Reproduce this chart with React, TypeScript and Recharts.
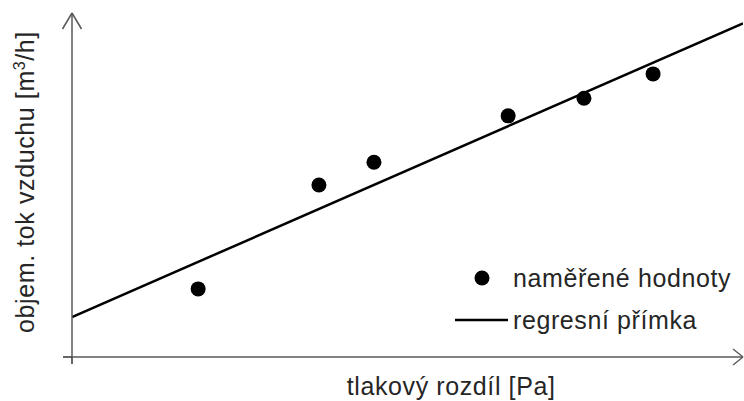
import React from "react";
import { ComposedChart, Scatter, Line, XAxis, YAxis, ReferenceLine, Legend } from "recharts";

// naměřené hodnoty (osy bez stupnice 0–100)
const measuredX = [18.8, 36.8, 45.0, 65.0, 76.3, 86.6];
const measuredY = [19.8, 50.0, 56.6, 70.1, 75.2, 82.3];

// regresní přímka – krajní body
const regressionX = [0, 100];
const regressionY = [11.6, 97.0];

const xTitle = "tlakový rozdíl [Pa]";
const yTitleParts = ["objem. tok vzduchu [m", "3", "/h]"];
const seriesNames = ["naměřené hodnoty", "regresní přímka"];

const measured = measuredX.map((x, i) => ({ x, y: measuredY[i] }));
const regression = regressionX.map((x, i) => ({ x, y: regressionY[i] }));

const W = 744;
const H = 401;
const margin = { top: 13, right: 1, left: 0, bottom: 0 };
const Y_AXIS_W = 72;
const X_AXIS_H = 44;
const plotW = W - Y_AXIS_W - margin.right - margin.left;
const plotH = H - X_AXIS_H - margin.top - margin.bottom;

// převod px -> jednotky os pro dekorace (šipky, přesahy)
const ux = (px: number) => (px / plotW) * 100;
const uy = (px: number) => (px / plotH) * 100;

const AXIS = "#595959";
const TEXT = "#262626";
const FONT = "'Liberation Sans', Arial, sans-serif";
const textStyle = { fontFamily: FONT, fontSize: 25, letterSpacing: 0.6, fill: TEXT };

const XTitle = (props: any) => {
  const vb = props.viewBox || { x: Y_AXIS_W, y: H - X_AXIS_H, width: plotW, height: X_AXIS_H };
  return (
    <text x={vb.x + vb.width * 0.565} y={vb.y + 38} textAnchor="middle" style={textStyle}>
      {xTitle}
    </text>
  );
};

const YTitle = (props: any) => {
  const vb = props.viewBox || { x: 0, y: margin.top, width: Y_AXIS_W, height: plotH };
  const cx = vb.x + 34;
  const cy = vb.y + vb.height / 2 - 3;
  return (
    <text x={cx} y={cy} textAnchor="middle" transform={`rotate(-90, ${cx}, ${cy})`} style={textStyle}>
      <tspan>{yTitleParts[0]}</tspan>
      <tspan dy={-9} style={{ fontSize: 16 }}>{yTitleParts[1]}</tspan>
      <tspan dy={9}>{yTitleParts[2]}</tspan>
    </text>
  );
};

const Dot = (p: any) => <circle cx={p.cx} cy={p.cy} r={7.5} fill="#000" />;

const LegendBox = (props: any) => {
  const payload = props.payload || [];
  return (
    <div style={{ fontFamily: FONT, fontSize: 25, letterSpacing: 0.6, color: TEXT }}>
      {payload.map((entry: any, i: number) => (
        <div key={i} style={{ display: "flex", alignItems: "center", height: 42 }}>
          <svg width={58} height={42} style={{ display: "block" }}>
            {entry.type === "line" ? (
              <line x1={0} y1={21} x2={53} y2={21} stroke="#000" strokeWidth={2.5} />
            ) : (
              <circle cx={27} cy={21} r={7.5} fill="#000" />
            )}
          </svg>
          <span style={{ lineHeight: "42px", whiteSpace: "nowrap" }}>{entry.value}</span>
        </div>
      ))}
    </div>
  );
};

export default function App() {
  return (
    <div style={{ position: "absolute", left: 0, top: 0, background: "#fff" }}>
      <ComposedChart width={W} height={H} margin={margin}>
        <XAxis
          type="number"
          dataKey="x"
          domain={[0, 100]}
          allowDataOverflow
          tick={false}
          tickLine={false}
          height={X_AXIS_H}
          axisLine={{ stroke: AXIS, strokeWidth: 1.5 }}
          label={{ content: XTitle }}
        />
        <YAxis
          type="number"
          domain={[0, 100]}
          allowDataOverflow
          tick={false}
          tickLine={false}
          width={Y_AXIS_W}
          axisLine={{ stroke: AXIS, strokeWidth: 1.5 }}
          label={{ content: YTitle }}
        />
        {/* šipky a přesahy v počátku */}
        <ReferenceLine segment={[{ x: 0, y: 100 }, { x: -ux(9.5), y: 100 - uy(16) }]} stroke={AXIS} strokeWidth={1.5} ifOverflow="visible" />
        <ReferenceLine segment={[{ x: 0, y: 100 }, { x: ux(9.5), y: 100 - uy(16) }]} stroke={AXIS} strokeWidth={1.5} ifOverflow="visible" />
        <ReferenceLine segment={[{ x: 100, y: 0 }, { x: 100 - ux(10), y: uy(8) }]} stroke={AXIS} strokeWidth={1.5} ifOverflow="visible" />
        <ReferenceLine segment={[{ x: 100, y: 0 }, { x: 100 - ux(10), y: -uy(8) }]} stroke={AXIS} strokeWidth={1.5} ifOverflow="visible" />
        <ReferenceLine segment={[{ x: -ux(9), y: 0 }, { x: 0, y: 0 }]} stroke="#333" strokeWidth={1.5} ifOverflow="visible" />
        <ReferenceLine segment={[{ x: 0, y: 0 }, { x: 0, y: -uy(7) }]} stroke="#333" strokeWidth={1.5} ifOverflow="visible" />
        <Scatter
          name={seriesNames[0]}
          data={measured}
          dataKey="y"
          legendType="circle"
          fill="#000"
          shape={Dot}
          isAnimationActive={false}
        />
        <Line
          name={seriesNames[1]}
          data={regression}
          dataKey="y"
          type="linear"
          stroke="#000"
          strokeWidth={2.5}
          dot={false}
          activeDot={false}
          legendType="line"
          isAnimationActive={false}
        />
        <Legend
          layout="vertical"
          align="center"
          verticalAlign="middle"
          content={LegendBox}
          wrapperStyle={{ position: "absolute", left: 455, top: 257, width: 289 }}
        />
      </ComposedChart>
    </div>
  );
}
